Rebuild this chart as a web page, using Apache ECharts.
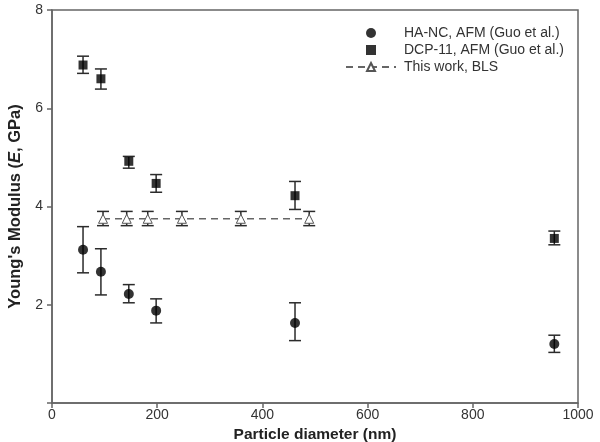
<!DOCTYPE html>
<html>
<head>
<meta charset="utf-8">
<script src="https://cdn.jsdelivr.net/npm/echarts@6/dist/echarts.min.js"></script>
<style>
  html, body { margin: 0; padding: 0; background: #fff; }
  #chart { width: 600px; height: 442px; }
</style>
</head>
<body>
<div id="chart"></div>
<script>
// HA-NC, AFM (Guo et al.)
var haDiam = [59, 93, 146, 198, 462, 955];
var haMod  = [3.12, 2.67, 2.22, 1.88, 1.63, 1.2];
var haLo   = [2.65, 2.2, 2.04, 1.63, 1.27, 1.03];
var haHi   = [3.59, 3.14, 2.41, 2.12, 2.04, 1.38];

// DCP-11, AFM (Guo et al.)
var dcpDiam = [59, 93, 146, 198, 462, 955];
var dcpMod  = [6.88, 6.6, 4.92, 4.47, 4.22, 3.35];
var dcpLo   = [6.71, 6.39, 4.78, 4.29, 3.94, 3.22];
var dcpHi   = [7.06, 6.8, 5.02, 4.65, 4.51, 3.5];

// This work, BLS
var blsDiam = [97, 142, 182, 247, 359, 489];
var blsMod  = [3.75, 3.75, 3.75, 3.75, 3.75, 3.75];
var blsLo   = [3.61, 3.61, 3.61, 3.61, 3.61, 3.61];
var blsHi   = [3.9, 3.9, 3.9, 3.9, 3.9, 3.9];

var xTicks = [0, 200, 400, 600, 800, 1000];
var yTicks = [2, 4, 6, 8];

function pairs(xs, ys) {
    return xs.map(function (x, i) { return [x, ys[i]]; });
}
function bars(xs, lo, hi) {
    return xs.map(function (x, i) { return [x, lo[i], hi[i]]; });
}

function errorBar(params, api) {
    var x = api.value(0);
    var top = api.coord([x, api.value(2)]);
    var bot = api.coord([x, api.value(1)]);
    var w = 6;
    var st = {stroke: '#2b2b2b', lineWidth: 1.5};
    return {
        type: 'group',
        children: [
            {type: 'line', shape: {x1: top[0], y1: top[1], x2: bot[0], y2: bot[1]}, style: st},
            {type: 'line', shape: {x1: top[0] - w, y1: top[1], x2: top[0] + w, y2: top[1]}, style: st},
            {type: 'line', shape: {x1: bot[0] - w, y1: bot[1], x2: bot[0] + w, y2: bot[1]}, style: st}
        ]
    };
}

var chart = echarts.init(document.getElementById('chart'));
var font = 'Liberation Sans, Arial, sans-serif';

var option = {
    animation: false,
    backgroundColor: '#fff',
    grid: {
        show: true,
        left: 52,
        right: 22,
        top: 10,
        bottom: 39,
        outerBoundsMode: 'none',
        borderColor: '#666',
        borderWidth: 1.5
    },
    legend: {
        orient: 'vertical',
        left: 340,
        top: 21,
        itemWidth: 50,
        itemHeight: 10,
        itemGap: 3,
        symbolKeepAspect: true,
        textStyle: {fontFamily: font, fontSize: 14, color: '#333', padding: [0, 0, 0, 3]},
        data: [
            {name: 'HA-NC, AFM (Guo et al.)', icon: 'circle'},
            {name: 'DCP-11, AFM (Guo et al.)', icon: 'path://M0,0L10,0L10,10L0,10Z'},
            'This work, BLS'
        ]
    },
    xAxis: {
        type: 'value',
        min: 0,
        max: 1000,
        interval: 200,
        name: 'Particle diameter (nm)',
        nameLocation: 'middle',
        nameGap: 19,
        nameTextStyle: {fontFamily: font, fontSize: 15.5, fontWeight: 'bold', color: '#222'},
        axisLine: {lineStyle: {color: '#666', width: 1.5}},
        axisTick: {show: true, inside: false, length: 5, lineStyle: {color: '#666', width: 1.5}},
        axisLabel: {
            fontFamily: font, fontSize: 14, color: '#333', margin: 5,
            formatter: function (v) { return xTicks.indexOf(v) >= 0 ? String(v) : ''; }
        },
        splitLine: {show: false}
    },
    yAxis: {
        type: 'value',
        min: 0,
        max: 8,
        interval: 2,
        name: "Young's Modulus ({i|E}, GPa)",
        nameLocation: 'middle',
        nameGap: 28,
        nameTextStyle: {
            fontFamily: font, fontSize: 16.5, fontWeight: 'bold', color: '#222',
            rich: {i: {fontFamily: font, fontSize: 16.5, fontWeight: 'bold', fontStyle: 'italic', color: '#222'}}
        },
        axisLine: {lineStyle: {color: '#666', width: 1.5}},
        axisTick: {show: true, inside: false, length: 5, lineStyle: {color: '#666', width: 1.5}},
        axisLabel: {
            fontFamily: font, fontSize: 14, color: '#333', margin: 9,
            formatter: function (v) { return yTicks.indexOf(v) >= 0 ? String(v) : ''; }
        },
        splitLine: {show: false}
    },
    series: [
        {
            type: 'custom',
            renderItem: errorBar,
            encode: {x: 0, y: [1, 2]},
            data: bars(haDiam, haLo, haHi),
            z: 1
        },
        {
            type: 'custom',
            renderItem: errorBar,
            encode: {x: 0, y: [1, 2]},
            data: bars(dcpDiam, dcpLo, dcpHi),
            z: 1
        },
        {
            type: 'custom',
            renderItem: errorBar,
            encode: {x: 0, y: [1, 2]},
            data: bars(blsDiam, blsLo, blsHi),
            z: 1
        },
        {
            name: 'HA-NC, AFM (Guo et al.)',
            type: 'scatter',
            symbol: 'circle',
            symbolSize: 10,
            itemStyle: {color: '#000'},
            data: pairs(haDiam, haMod),
            z: 3
        },
        {
            name: 'DCP-11, AFM (Guo et al.)',
            type: 'scatter',
            symbol: 'rect',
            symbolSize: 9,
            itemStyle: {color: '#000'},
            data: pairs(dcpDiam, dcpMod),
            z: 3
        },
        {
            name: 'This work, BLS',
            type: 'line',
            symbol: 'triangle',
            symbolSize: 9,
            showAllSymbol: true,
            itemStyle: {color: '#fff', borderColor: '#555', borderWidth: 1},
            lineStyle: {color: '#666', width: 1.5, type: [7, 5]},
            data: pairs(blsDiam, blsMod),
            z: 2
        }
    ]
};
chart.setOption(option);
</script>
</body>
</html>
